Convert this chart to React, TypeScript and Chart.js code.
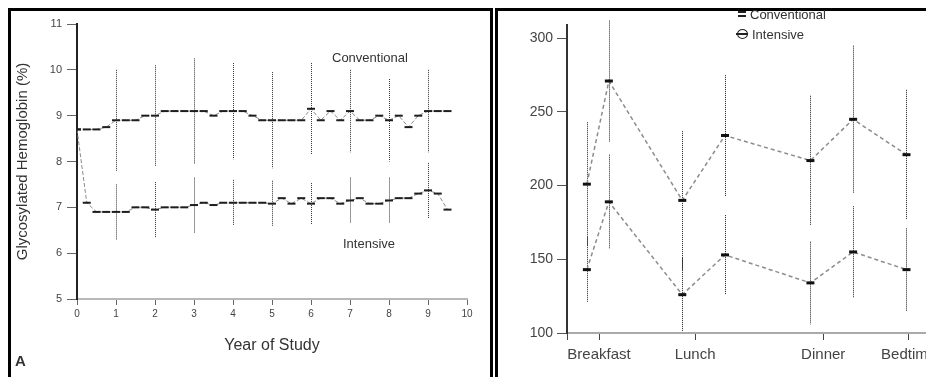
import React, { useEffect, useRef } from 'react';
import { Chart, registerables } from 'chart.js';

Chart.register(...registerables);

const FONT = "'Liberation Sans', Arial, sans-serif";

// ---------- Panel A: glycosylated hemoglobin by year of study ----------
const studyYears = [0, 0.25, 0.5, 0.75, 1, 1.25, 1.5, 1.75, 2, 2.25, 2.5, 2.75, 3, 3.25, 3.5, 3.75, 4, 4.25, 4.5, 4.75, 5, 5.25, 5.5, 5.75, 6, 6.25, 6.5, 6.75, 7, 7.25, 7.5, 7.75, 8, 8.25, 8.5, 8.75, 9, 9.25, 9.5];
const conventionalHbA1c = [8.7, 8.7, 8.7, 8.75, 8.9, 8.9, 8.9, 9.0, 9.0, 9.1, 9.1, 9.1, 9.1, 9.1, 9.0, 9.1, 9.1, 9.1, 9.0, 8.9, 8.9, 8.9, 8.9, 8.9, 9.15, 8.9, 9.1, 8.9, 9.1, 8.9, 8.9, 9.0, 8.9, 9.0, 8.75, 9.0, 9.1, 9.1, 9.1];
const intensiveHbA1c = [8.7, 7.1, 6.9, 6.9, 6.9, 6.9, 7.0, 7.0, 6.95, 7.0, 7.0, 7.0, 7.05, 7.1, 7.05, 7.1, 7.1, 7.1, 7.1, 7.1, 7.08, 7.2, 7.08, 7.2, 7.08, 7.2, 7.2, 7.08, 7.15, 7.2, 7.08, 7.08, 7.15, 7.2, 7.2, 7.3, 7.37, 7.3, 6.95];
const sdYears = [1, 2, 3, 4, 5, 6, 7, 8, 9];
const conventionalHbA1cSD = [1.1, 1.1, 1.15, 1.05, 1.05, 1.0, 0.9, 0.9, 0.9];
const intensiveHbA1cSD = [0.6, 0.6, 0.6, 0.5, 0.5, 0.45, 0.5, 0.5, 0.6];
const yearTickValues = [0, 1, 2, 3, 4, 5, 6, 7, 8, 9, 10];
const hba1cTickValues = [5, 6, 7, 8, 9, 10, 11];

// ---------- Panel B: blood glucose through the day ----------
const mealTimes = [6.43, 7.46, 10.9, 12.9, 16.9, 18.9, 21.4];
const conventionalGlucose = [201, 271, 190, 234, 217, 245, 221];
const intensiveGlucose = [143, 189, 126, 153, 134, 155, 143];
const conventionalGlucoseSD = [42, 41, 47, 41, 44, 50, 44];
const intensiveGlucoseSD = [22, 32, 25, 27, 28, 31, 28];
const mealTickValues = [5.5, 7, 11.5, 17.5, 21.5];
const mealTickLabels = ['', 'Breakfast', 'Lunch', 'Dinner', 'Bedtime'];
const glucoseTickValues = [100, 150, 200, 250, 300];

type Bar = { x: number; y: number; sd: number };

function errorBarsPlugin(bars: Bar[], color: string, dash: number[]) {
  return {
    id: 'errorBars',
    beforeDatasetsDraw(chart: any) {
      const { ctx, scales } = chart;
      const xs = scales.x;
      const ys = scales.y;
      ctx.save();
      ctx.strokeStyle = color;
      ctx.lineWidth = 1;
      ctx.setLineDash(dash);
      bars.forEach((b) => {
        const px = Math.round(xs.getPixelForValue(b.x)) + 0.5;
        ctx.beginPath();
        ctx.moveTo(px, ys.getPixelForValue(b.y + b.sd));
        ctx.lineTo(px, ys.getPixelForValue(b.y - b.sd));
        ctx.stroke();
      });
      ctx.restore();
    },
  };
}

function ChartCanvas({ width, height, build }: { width: number; height: number; build: () => any }) {
  const ref = useRef<HTMLCanvasElement>(null);
  useEffect(() => {
    const chart = new Chart(ref.current as HTMLCanvasElement, build());
    return () => chart.destroy();
  }, []);
  return <canvas ref={ref} width={width} height={height} style={{ display: 'block', width, height }} />;
}

function buildPanelA() {
  const bars: Bar[] = [];
  sdYears.forEach((yr, i) => {
    const idx = studyYears.indexOf(yr);
    bars.push({ x: yr, y: conventionalHbA1c[idx], sd: conventionalHbA1cSD[i] });
    bars.push({ x: yr, y: intensiveHbA1c[idx], sd: intensiveHbA1cSD[i] });
  });
  const series = (label: string, values: number[]) => ({
    label,
    data: studyYears.map((x, i) => ({ x, y: values[i] })),
    borderColor: '#8a8a8a',
    borderWidth: 1,
    borderDash: [4, 2],
    pointStyle: 'line',
    pointRadius: 4,
    pointBorderColor: '#1e1e1e',
    pointBackgroundColor: '#1e1e1e',
    pointBorderWidth: 2,
    tension: 0,
  });
  return {
    type: 'line',
    data: { datasets: [series('Conventional', conventionalHbA1c), series('Intensive', intensiveHbA1c)] },
    options: {
      responsive: false,
      animation: false,
      devicePixelRatio: 1,
      layout: { padding: { top: 13, right: 23, left: 0, bottom: 0 } },
      plugins: { legend: { display: false }, tooltip: { enabled: false } },
      scales: {
        x: {
          type: 'linear',
          min: 0,
          max: 10,
          afterBuildTicks: (s: any) => { s.ticks = yearTickValues.map((v) => ({ value: v })); },
          ticks: { font: { family: FONT, size: 10 }, color: '#444', padding: 3, maxRotation: 0 },
          grid: { drawOnChartArea: false, drawTicks: true, tickLength: 6, color: '#666' },
          border: { color: '#b8b8b8', width: 2 },
          title: { display: true, text: 'Year of Study', font: { family: FONT, size: 16 }, color: '#333', padding: { top: 0, bottom: 22 } },
          afterFit: (s: any) => { s.height = 78; },
        },
        y: {
          type: 'linear',
          min: 5,
          max: 11,
          afterBuildTicks: (s: any) => { s.ticks = hba1cTickValues.map((v) => ({ value: v })); },
          ticks: { font: { family: FONT, size: 11 }, color: '#444', padding: 5 },
          grid: { drawOnChartArea: false, drawTicks: true, tickLength: 10, color: '#666' },
          border: { color: '#222', width: 2, dash: [2, 1] },
          title: { display: true, text: 'Glycosylated Hemoglobin (%)', font: { family: FONT, size: 15 }, color: '#333', padding: { top: 3, bottom: 0 } },
          afterFit: (s: any) => { s.width = 66; },
        },
      },
    },
    plugins: [errorBarsPlugin(bars, '#333', [1, 1])],
  };
}

function buildPanelB() {
  const bars: Bar[] = [];
  mealTimes.forEach((t, i) => {
    bars.push({ x: t, y: conventionalGlucose[i], sd: conventionalGlucoseSD[i] });
    bars.push({ x: t, y: intensiveGlucose[i], sd: intensiveGlucoseSD[i] });
  });
  const series = (label: string, values: number[]) => ({
    label,
    data: mealTimes.map((x, i) => ({ x, y: values[i] })),
    borderColor: '#8c8c8c',
    borderWidth: 1.5,
    borderDash: [4, 3],
    pointStyle: 'line',
    pointRadius: 4,
    pointBorderColor: '#111',
    pointBackgroundColor: '#111',
    pointBorderWidth: 3,
    tension: 0,
  });
  return {
    type: 'line',
    data: { datasets: [series('Conventional', conventionalGlucose), series('Intensive', intensiveGlucose)] },
    options: {
      responsive: false,
      animation: false,
      devicePixelRatio: 1,
      layout: { padding: { top: 14, right: 36, left: 0, bottom: 0 } },
      plugins: { legend: { display: false }, tooltip: { enabled: false } },
      scales: {
        x: {
          type: 'linear',
          min: 5.5,
          max: 24,
          afterBuildTicks: (s: any) => { s.ticks = mealTickValues.map((v) => ({ value: v })); },
          ticks: {
            font: { family: FONT, size: 15 },
            color: '#444',
            padding: 6,
            maxRotation: 0,
            autoSkip: false,
            callback: (_v: any, i: number) => mealTickLabels[i],
          },
          grid: { drawOnChartArea: false, drawTicks: true, tickLength: 7, color: '#444' },
          border: { color: '#aaa', width: 2 },
          afterFit: (s: any) => { s.height = 44; },
        },
        y: {
          type: 'linear',
          min: 100,
          max: 309,
          afterBuildTicks: (s: any) => { s.ticks = glucoseTickValues.map((v) => ({ value: v })); },
          ticks: { font: { family: FONT, size: 14 }, color: '#444', padding: 4 },
          grid: { drawOnChartArea: false, drawTicks: true, tickLength: 10, color: '#555' },
          border: { color: '#333', width: 2, dash: [2, 1] },
          afterFit: (s: any) => { s.width = 69; },
        },
      },
    },
    plugins: [errorBarsPlugin(bars, '#222', [1, 1])],
  };
}

const txt = (extra: React.CSSProperties): React.CSSProperties => ({
  position: 'absolute',
  fontFamily: FONT,
  color: '#333',
  whiteSpace: 'nowrap',
  fontSize: 13,
  lineHeight: '15px',
  ...extra,
});

export default function App() {
  return (
    <div style={{ position: 'fixed', left: 0, top: 0, width: 926, height: 377, overflow: 'hidden', background: '#fff' }}>
      <div style={{ position: 'absolute', left: 8, top: 8, width: 485, height: 420, border: '3px solid #000', boxSizing: 'border-box', overflow: 'hidden' }}>
        <ChartCanvas width={479} height={366} build={buildPanelA} />
      </div>
      <div style={{ position: 'absolute', left: 495, top: 8, width: 470, height: 420, border: '3px solid #000', boxSizing: 'border-box', overflow: 'hidden' }}>
        <ChartCanvas width={500} height={366} build={buildPanelB} />
      </div>
      <div style={txt({ left: 332, top: 50 })}>Conventional</div>
      <div style={txt({ left: 343, top: 236 })}>Intensive</div>
      <div style={txt({ left: 15, top: 352, fontSize: 15, fontWeight: 'bold', lineHeight: '17px' })}>A</div>
      <div style={{ position: 'absolute', left: 738, top: 11, width: 8, height: 2, borderTop: '2px solid #222', borderBottom: '2px solid #222' }} />
      <div style={txt({ left: 750, top: 7 })}>Conventional</div>
      <div style={{ position: 'absolute', left: 737, top: 29, width: 9, height: 8, border: '1.5px solid #222', borderRadius: '50%' }} />
      <div style={{ position: 'absolute', left: 736, top: 33, width: 12, height: 2, background: '#222' }} />
      <div style={txt({ left: 752, top: 27 })}>Intensive</div>
    </div>
  );
}
